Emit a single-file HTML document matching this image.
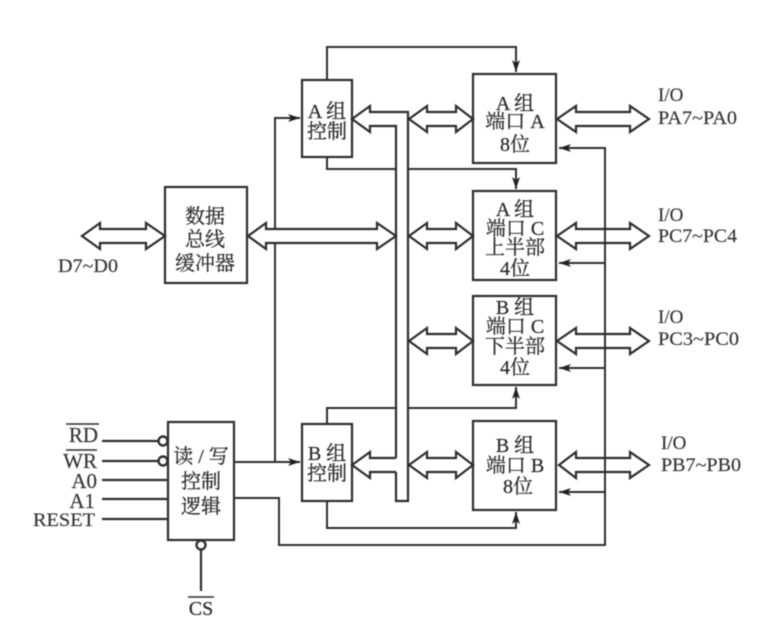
<!DOCTYPE html>
<html><head><meta charset="utf-8"><style>
html,body{margin:0;padding:0;background:#fff;width:783px;height:624px;overflow:hidden}
svg{display:block;filter:blur(.45px)}
.t{font-family:"Liberation Serif","Noto Serif CJK SC",serif;font-size:20px;fill:#2b2b2b;stroke:#2b2b2b;stroke-width:.25;text-anchor:middle}
.l{font-family:"Liberation Serif","Noto Serif CJK SC",serif;font-size:19px;fill:#333;stroke:#333;stroke-width:.15}
.r{text-anchor:end}
</style></head><body>
<svg width="783" height="624" viewBox="0 0 783 624" xmlns="http://www.w3.org/2000/svg">
<defs>
<marker id="a" markerUnits="userSpaceOnUse" markerWidth="14" markerHeight="10" refX="12" refY="4" orient="auto"><path d="M0 0L12 4L0 8L3 4Z" fill="#222"/></marker>
</defs>
<g fill="none" stroke="#2e2e2e" stroke-width="2">
<!-- boxes -->
<rect x="165" y="187" width="82" height="96" stroke-width="2.2"/>
<rect x="168" y="422" width="66" height="118" stroke-width="2.2"/>
<rect x="302" y="80" width="50" height="77" stroke-width="2.2"/>
<rect x="302" y="424" width="50" height="77" stroke-width="2.2"/>
<rect x="473" y="74" width="83" height="89" stroke-width="2.2"/>
<rect x="473" y="191" width="83" height="89" stroke-width="2.2"/>
<rect x="473" y="296" width="83" height="89" stroke-width="2.2"/>
<rect x="473" y="421" width="83" height="89" stroke-width="2.2"/>
<!-- thin wires -->
<path d="M275 229V118H300" marker-end="url(#a)"/>
<path d="M275 243V462"/>
<path d="M234 462H300" marker-end="url(#a)"/>
<path d="M327 80V47H516V72" marker-end="url(#a)"/>
<path d="M327 157V169H396M408 169H516V189" marker-end="url(#a)"/>
<path d="M327 424V408H396M408 408H516V387" marker-end="url(#a)"/>
<path d="M327 501V528H516V512" marker-end="url(#a)"/>
<path d="M234 498H279V545H605V148H559" marker-end="url(#a)"/>
<path d="M605 263H559" marker-end="url(#a)"/>
<path d="M605 368H559" marker-end="url(#a)"/>
<path d="M605 492H559" marker-end="url(#a)"/>
<!-- bus -->
<path d="M396 458V126H370V132L352 119L370 106V112H408V501H396V472" stroke-width="2.2"/>
<path d="M396 458H370V452L352 465L370 478V472H396" stroke-width="2.2"/>
<!-- double arrows -->
<g stroke-width="2.2" fill="#fff">
<path d="M82 236L100 223V229H146V223L165 236L146 249V243H100V249Z"/>
<path d="M248 236L266 223V229H377V223L396 236L377 249V243H266V249Z"/>
<path d="M409 119L427 106V112H456V106L473 119L456 132V126H427V132Z"/>
<path d="M409 236L427 223V229H456V223L473 236L456 249V243H427V249Z"/>
<path d="M409 341L427 328V334H456V328L473 341L456 354V348H427V354Z"/>
<path d="M409 465L427 452V458H456V452L473 465L456 478V472H427V478Z"/>
<path d="M557 119L576 106V112H630V106L649 119L630 132V126H576V132Z"/>
<path d="M557 236L576 223V229H630V223L649 236L630 249V243H576V249Z"/>
<path d="M557 341L576 328V334H630V328L649 341L630 354V348H576V354Z"/>
<path d="M559 465L576 452V458H630V452L649 465L630 478V472H576V478Z"/>
</g>
<path d="M605 229V243M605 334V348M605 458V472"/>
<!-- inputs -->
<path d="M102 441H158M102 461H158M102 480H168M102 499H168M102 519H168" stroke-width="2.2"/>
<circle cx="163" cy="441" r="4.5" stroke-width="2.4" fill="#fff"/>
<circle cx="163" cy="461" r="4.5" stroke-width="2.4" fill="#fff"/>
<circle cx="201" cy="545" r="4.5" stroke-width="2.4" fill="#fff"/>
<path d="M201 550V591" stroke-width="2.2"/>
<path d="M66 424H99M66 450H97M188 597H214" stroke-width="1.5"/>
</g>
<text class="t" x="205" y="223">数据</text>
<text class="t" x="205" y="246">总线</text>
<text class="t" x="205" y="270">缓冲器</text>
<text class="t" x="201" y="463">读 / 写</text>
<text class="t" x="201" y="488">控制</text>
<text class="t" x="201" y="513">逻辑</text>
<text class="t" x="327" y="118">A 组</text>
<text class="t" x="327" y="138">控制</text>
<text class="t" x="327" y="460">B 组</text>
<text class="t" x="327" y="480">控制</text>
<text class="t" x="515" y="110">A 组</text>
<text class="t" x="515" y="128">端口 A</text>
<text class="t" x="515" y="151">8位</text>
<text class="t" x="515" y="216">A 组</text>
<text class="t" x="515" y="235">端口 C</text>
<text class="t" x="515" y="254">上半部</text>
<text class="t" x="515" y="275">4位</text>
<text class="t" x="515" y="314">B 组</text>
<text class="t" x="515" y="333">端口 C</text>
<text class="t" x="515" y="353">下半部</text>
<text class="t" x="515" y="374">4位</text>
<text class="t" x="515" y="452">B 组</text>
<text class="t" x="515" y="472">端口 B</text>
<text class="t" x="518" y="493">8位</text>
<text class="l" x="658" y="101">I/O</text>
<text class="l" x="658" y="124" textLength="79" lengthAdjust="spacingAndGlyphs">PA7~PA0</text>
<text class="l" x="658" y="221">I/O</text>
<text class="l" x="658" y="242" textLength="79" lengthAdjust="spacingAndGlyphs">PC7~PC4</text>
<text class="l" x="658" y="323">I/O</text>
<text class="l" x="658" y="345" textLength="81" lengthAdjust="spacingAndGlyphs">PC3~PC0</text>
<text class="l" x="661" y="449">I/O</text>
<text class="l" x="661" y="471" textLength="80" lengthAdjust="spacingAndGlyphs">PB7~PB0</text>
<text class="l" x="58" y="272" textLength="60" lengthAdjust="spacingAndGlyphs">D7~D0</text>
<text class="l r" x="98" y="442" style="font-size:21px">RD</text>
<text class="l r" x="97" y="468" style="font-size:21px">WR</text>
<text class="l r" x="97" y="488" style="font-size:21px">A0</text>
<text class="l r" x="95" y="508" style="font-size:21px">A1</text>
<text class="l" x="33" y="526" textLength="62" lengthAdjust="spacingAndGlyphs">RESET</text>
<text class="t" x="201" y="615">CS</text>
</svg>
</body></html>
